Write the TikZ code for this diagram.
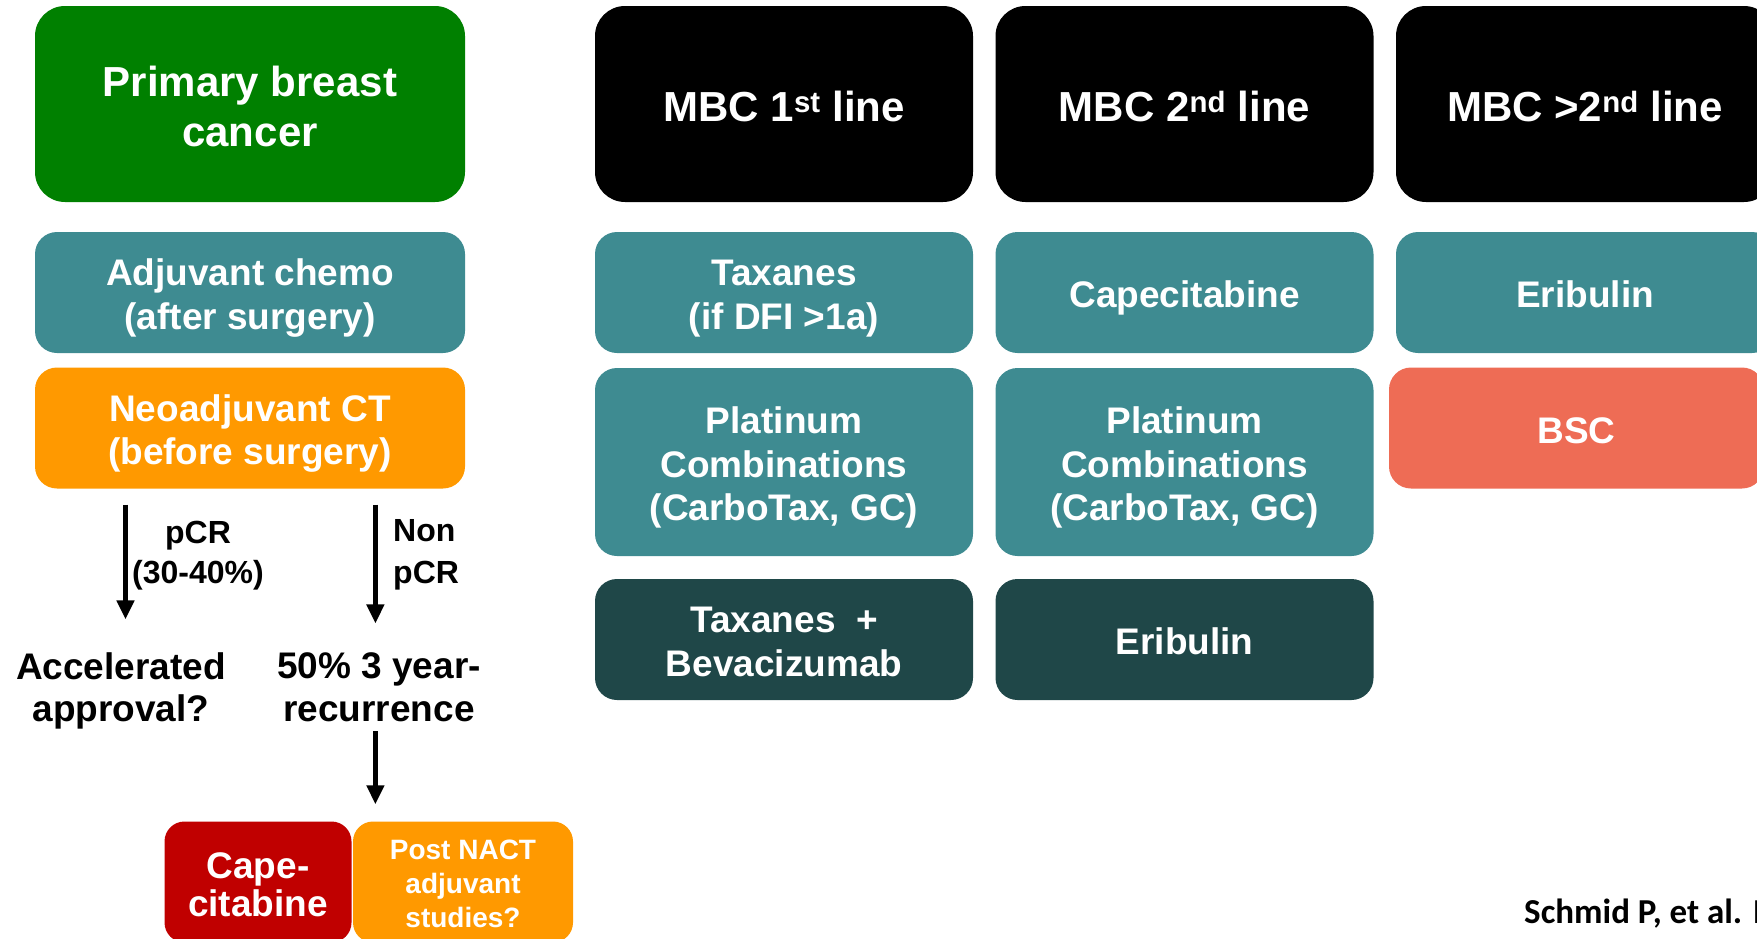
\documentclass[tikz,border=0pt]{standalone}
\usepackage{fontspec}
\setmainfont{Liberation Sans}
\newfontfamily\calib{Carlito}
\usetikzlibrary{arrows.meta}
\definecolor{cgreen}{HTML}{008000}
\definecolor{cteal}{HTML}{3E8B91}
\definecolor{corange}{HTML}{FF9900}
\definecolor{cdark}{HTML}{1F4748}
\definecolor{cred}{HTML}{C00000}
\definecolor{csalmon}{HTML}{EE6C55}
% struts fixing the height of the first line and the depth of the last line
\newcommand\topS{\rule[-0.22em]{0pt}{1.26em}}
\newcommand\botS{\rule[-0.22em]{0pt}{0.22em}}
\tikzset{
  box/.style={rounded corners=22pt, inner sep=0pt, align=center, text=white,
    font=\bfseries\fontsize{37}{43.5}\selectfont, minimum width=378pt, minimum height=121pt},
  bigbox/.style={box, rounded corners=30pt, minimum height=196pt, font=\bfseries\fontsize{42}{50}\selectfont},
  lbl/.style={inner sep=0pt, align=center, text=black, font=\bfseries\fontsize{37}{42.5}\selectfont},
  small/.style={inner sep=0pt, text=black, font=\bfseries\fontsize{32}{40}\selectfont},
  arr/.style={line width=4.5pt, -{Triangle[length=19pt,width=17pt]}}
}
\begin{document}
\begin{tikzpicture}[x=1pt,y=-1pt]
\useasboundingbox (0,0) rectangle (1757,938);
\clip (0,0) rectangle (1757,938);
% left column
\node[bigbox, fill=cgreen, minimum width=430pt] (prim) at (250,104) {\topS Primary breast\\cancer\botS};
\node[box, fill=cteal, minimum width=430pt] (adj) at (250,292.5) {\topS Adjuvant chemo\\(after surgery)\botS};
\node[box, fill=corange, minimum width=430pt] (neo) at (250,428) {\topS Neoadjuvant CT\\(before surgery)\botS};
% MBC headers
\node[bigbox, fill=black] (m1) at (784,104) {\topS MBC 1\textsuperscript{st} line};
\node[bigbox, fill=black] (m2) at (1184.5,104) {\topS MBC 2\textsuperscript{nd} line};
\node[bigbox, fill=black] (m3) at (1585,104) {\topS MBC >2\textsuperscript{nd} line};
% row 2
\node[box, fill=cteal] (tax) at (784,292.5) {\topS Taxanes\\(if DFI >1a)\botS};
\node[box, fill=cteal] (cap2) at (1184.5,292.5) {\topS Capecitabine};
\node[box, fill=cteal] (eri3) at (1585,292.5) {\topS Eribulin};
% row 3
\node[box, fill=cteal, minimum height=188pt] (plat1) at (784,462) {\topS Platinum\\Combinations\\(CarboTax, GC)\botS};
\node[box, fill=cteal, minimum height=188pt] (plat2) at (1184.5,462) {\topS Platinum\\Combinations\\(CarboTax, GC)\botS};
\node[box, fill=csalmon, minimum width=375pt] (bsc) at (1576.5,428) {\topS BSC};
% row 4
\node[box, fill=cdark] (tb) at (784,639.5) {\topS Taxanes\ \ +\\Bevacizumab\botS};
\node[box, fill=cdark] (eri2) at (1184.5,639.5) {\topS Eribulin};
% flow below neoadjuvant
\node[lbl] (acc) at (121,691) {Accelerated\\approval?};
\node[lbl] (rec) at (379,687.5) {50\% 3 year-\\recurrence};
\node[small, align=center] (pcr) at (198,556) {pCR\\(30-40\%)};
\node[small, align=left, anchor=west, font=\bfseries\fontsize{32}{42}\selectfont] (npcr) at (393,555) {Non\\pCR};
\draw[arr] ([xshift=4.5pt,yshift=-16pt]neo.south -| acc.north) -- ([xshift=4.5pt,yshift=33pt]acc.north);
\draw[arr] ([xshift=-3.6pt,yshift=-16pt]neo.south -| rec.north) -- ([xshift=-3.6pt,yshift=29.5pt]rec.north);
% bottom boxes
\node[box, fill=cred, rounded corners=20pt, minimum width=187pt, font=\bfseries\fontsize{37}{38}\selectfont] (capb) at (258,882) {\topS Cape-\\citabine\botS};
\node[box, fill=corange, rounded corners=20pt, minimum width=220pt, font=\bfseries\fontsize{28}{34}\selectfont] (post) at (463,882) {\topS Post NACT\\adjuvant\\studies?\botS};
\draw[arr] ([xshift=-3.6pt,yshift=-9pt]rec.south) -- ([xshift=-3.6pt,yshift=17pt]capb.north -| rec.south);
% citation
\node[inner sep=0pt, anchor=base west, font=\calib\bfseries\fontsize{35}{40}\selectfont] (cite) at (1524,923) {Schmid P, et al. I};
\end{tikzpicture}
\end{document}
